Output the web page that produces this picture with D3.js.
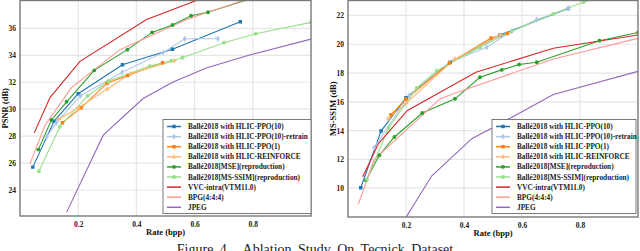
<!DOCTYPE html>
<html lang="en">
<head>
<meta charset="UTF-8">
<title>Ablation Study</title>
<script src="https://cdn.jsdelivr.net/npm/d3@7"></script>
<style>
    body { margin: 0; background: #fff; }
    svg { display: block; }
    text { font-family: "Liberation Serif", "DejaVu Serif", serif; }
    .tick text { font-size: 7.5px; font-weight: bold; fill: #222; }
    .axlabel { font-size: 8.5px; font-weight: bold; fill: #111; }
    .legend text { font-size: 7.3px; font-weight: bold; fill: #222; }
</style>
</head>
<body>
<script>
// series names, colours and markers
const names = ["Ballé2018 with HLIC-PPO(10)", "Ballé2018 with HLIC-PPO(10)-retrain",
    "Ballé2018 with HLIC-PPO(1)", "Ballé2018 with HLIC-REINFORCE",
    "Ballé2018[MSE](reproduction)", "Ballé2018[MS-SSIM](reproduction)",
    "VVC-intra(VTM11.0)", "BPG(4:4:4)", "JPEG"];
const colors = ["#1f77b4", "#aec7e8", "#ff7f0e", "#ffbb78", "#2ca02c", "#98df8a", "#d62728", "#ff9896", "#9467bd"];
const markers = ["square", "diamond", "square", "cross", "circle", "circle", null, null, null];

const rateTicks = [0.2, 0.4, 0.6, 0.8];
const psnrTicks = [24, 26, 28, 30, 32, 34, 36];
const ssimTicks = [10, 12, 14, 16, 18, 20, 22];

// PSNR (dB) vs rate (bpp)
const psnrPPO10 = [[0.044, 25.7], [0.117, 29.1], [0.2, 31.15], [0.352, 33.3], [0.524, 34.45], [0.757, 36.5]];
const psnrRetrain = [[0.092, 27.95], [0.125, 29.0], [0.208, 31.0], [0.351, 32.75], [0.492, 34.2], [0.566, 35.23], [0.68, 35.23]];
const psnrPPO1 = [[0.146, 29.0], [0.21, 30.1], [0.3, 31.95], [0.37, 32.5], [0.49, 33.45]];
const psnrReinforce = [[0.133, 29.25], [0.2, 30.1], [0.3, 31.5], [0.38, 32.65], [0.53, 33.6]];
const psnrMSE = [[0.063, 27.0], [0.108, 29.2], [0.16, 30.55], [0.255, 32.88], [0.369, 34.42], [0.454, 35.7], [0.524, 36.25], [0.588, 36.94], [0.646, 37.2], [0.85, 38.6]];
const psnrMSSSIM = [[0.065, 25.4], [0.137, 28.7], [0.232, 30.98], [0.303, 32.07], [0.446, 33.2], [0.52, 33.6], [0.558, 33.82], [0.701, 34.94], [0.81, 35.6], [1.0, 36.45]];
const psnrVVC = [[0.049, 28.24], [0.103, 30.86], [0.206, 33.55], [0.435, 36.66], [0.606, 38.07], [0.8, 39.6]];
const psnrBPG = [[0.034, 25.92], [0.086, 28.81], [0.177, 31.6], [0.343, 34.42], [0.577, 36.7], [0.766, 38.07], [0.9, 39.0]];
const psnrJPEG = [[0.16, 22.34], [0.286, 28.07], [0.423, 30.79], [0.526, 32.02], [0.64, 33.06], [0.783, 33.99], [1.0, 35.2]];

// MS-SSIM (dB) vs rate (bpp)
const ssimPPO10 = [[0.044, 10.03], [0.114, 13.97], [0.2, 16.28], [0.352, 18.75], [0.524, 20.64], [0.76, 22.49]];
const ssimRetrain = [[0.09, 12.82], [0.211, 16.44], [0.35, 18.75], [0.478, 19.79], [0.564, 20.89], [0.65, 21.7], [0.76, 22.5]];
const ssimPPO1 = [[0.148, 15.1], [0.2, 16.2], [0.35, 18.7], [0.493, 20.43], [0.55, 20.75]];
const ssimReinforce = [[0.139, 14.83], [0.2, 15.9], [0.369, 18.98], [0.524, 20.64]];
const ssimMSE = [[0.062, 10.56], [0.108, 12.29], [0.16, 13.56], [0.256, 15.22], [0.369, 16.21], [0.455, 17.71], [0.53, 18.22], [0.59, 18.59], [0.651, 18.75], [0.867, 20.25], [1.0, 20.82]];
const ssimMSSSIM = [[0.065, 10.6], [0.14, 14.2], [0.237, 16.97], [0.306, 18.17], [0.455, 19.79], [0.564, 20.9], [0.708, 22.1], [0.812, 22.93], [1.0, 24.0]];
const ssimVVC = [[0.051, 10.79], [0.105, 13.1], [0.205, 15.4], [0.441, 18.06], [0.708, 19.72], [1.0, 20.64]];
const ssimBPG = [[0.036, 8.9], [0.09, 11.99], [0.317, 16.2], [0.363, 16.56], [0.708, 18.98], [1.0, 20.41]];
const ssimJPEG = [[0.2, 7.98], [0.289, 10.86], [0.427, 13.44], [0.562, 14.9], [0.708, 16.51], [1.0, 18.12]];

const psnrSeries = [psnrPPO10, psnrRetrain, psnrPPO1, psnrReinforce, psnrMSE, psnrMSSSIM, psnrVVC, psnrBPG, psnrJPEG];
const ssimSeries = [ssimPPO10, ssimRetrain, ssimPPO1, ssimReinforce, ssimMSE, ssimMSSSIM, ssimVVC, ssimBPG, ssimJPEG];

const W = 640, H = 251;
const svg = d3.select("body").append("svg").attr("width", W).attr("height", H);

const symbolTypes = {square: d3.symbolSquare, diamond: d3.symbolDiamond, cross: d3.symbolCross, circle: d3.symbolCircle};

function drawPanel(id, box, yDomain, yTicks, series, yLabel, legendBox) {
    const x = d3.scaleLinear().domain([0, 1]).range([box.left, box.right]);
    const y = d3.scaleLinear().domain(yDomain).range([box.bottom, box.top]);
    const g = svg.append("g");

    g.append("clipPath").attr("id", id).append("rect")
        .attr("x", box.left).attr("y", box.top)
        .attr("width", box.right - box.left).attr("height", box.bottom - box.top);

    // grid
    g.selectAll(".vg").data(rateTicks).enter().append("line")
        .attr("x1", d => x(d)).attr("x2", d => x(d))
        .attr("y1", box.top).attr("y2", box.bottom)
        .attr("stroke", "#e6e6e6").attr("stroke-width", 1.2);
    g.selectAll(".hg").data(yTicks).enter().append("line")
        .attr("x1", box.left).attr("x2", box.right)
        .attr("y1", d => y(d)).attr("y2", d => y(d))
        .attr("stroke", "#e6e6e6").attr("stroke-width", 1.2);

    // axes (labels only)
    const xAxis = g.append("g").attr("transform", `translate(0,${box.bottom})`)
        .call(d3.axisBottom(x).tickValues(rateTicks).tickFormat(d3.format(".1f")).tickSize(0).tickPadding(6));
    xAxis.select(".domain").remove();
    const yAxis = g.append("g").attr("transform", `translate(${box.left},0)`)
        .call(d3.axisLeft(y).tickValues(yTicks).tickSize(0).tickPadding(4));
    yAxis.select(".domain").remove();

    // lines
    const line = d3.line().x(d => x(d[0])).y(d => y(d[1]));
    const plot = g.append("g").attr("clip-path", `url(#${id})`);
    series.forEach((s, i) => {
        plot.append("path").datum(s).attr("d", line)
            .attr("fill", "none").attr("stroke", colors[i]).attr("stroke-width", 1.1);
    });
    series.forEach((s, i) => {
        if (!markers[i]) return;
        plot.selectAll(null).data(s).enter().append("path")
            .attr("transform", d => `translate(${x(d[0])},${y(d[1])})`)
            .attr("d", d3.symbol(symbolTypes[markers[i]], 12))
            .attr("fill", colors[i]);
    });

    // frame
    g.append("rect").attr("x", box.left).attr("y", box.top)
        .attr("width", box.right - box.left).attr("height", box.bottom - box.top)
        .attr("fill", "none").attr("stroke", "#7a7a7a").attr("stroke-width", 1.4);

    // labels
    g.append("text").attr("class", "axlabel")
        .attr("x", (box.left + box.right) / 2).attr("y", box.bottom + 19)
        .attr("text-anchor", "middle").text("Rate (bpp)");
    g.append("text").attr("class", "axlabel")
        .attr("transform", `translate(${box.left - 12},${(box.top + box.bottom) / 2}) rotate(-90)`)
        .attr("text-anchor", "middle").text(yLabel);

    // legend
    const lg = g.append("g").attr("class", "legend");
    lg.append("rect").attr("x", legendBox.x).attr("y", legendBox.y)
        .attr("width", legendBox.w).attr("height", legendBox.h)
        .attr("fill", "#fff").attr("stroke", "#7a7a7a").attr("stroke-width", 1);
    names.forEach((n, i) => {
        const ly = legendBox.y + 7 + i * 10.1;
        const lx = legendBox.x + 4;
        lg.append("line").attr("x1", lx).attr("x2", lx + 14).attr("y1", ly).attr("y2", ly)
            .attr("stroke", colors[i]).attr("stroke-width", 1.5);
        if (markers[i]) {
            lg.append("path").attr("transform", `translate(${lx + 7},${ly})`)
                .attr("d", d3.symbol(symbolTypes[markers[i]], 12)).attr("fill", colors[i]);
        }
        lg.append("text").attr("x", lx + 21).attr("y", ly + 2.5).text(n);
    });
}

drawPanel("clipL", {left: 20, right: 311, top: 0.5, bottom: 216}, [22.07, 38.07], psnrTicks,
    psnrSeries, "PSNR (dB)", {x: 163, y: 119.5, w: 148, h: 94});
drawPanel("clipR", {left: 348, right: 638, top: 0.5, bottom: 217}, [8, 23.04], ssimTicks,
    ssimSeries, "MS-SSIM (dB)", {x: 492, y: 119.5, w: 144, h: 94});

svg.append("text").attr("x", 315).attr("y", 254)
    .attr("text-anchor", "middle").attr("font-size", 14).attr("word-spacing", 3)
    .attr("fill", "#222").attr("xml:space", "preserve")
    .text("Figure 4.  Ablation Study On Tecnick Dataset");
</script>
</body>
</html>
